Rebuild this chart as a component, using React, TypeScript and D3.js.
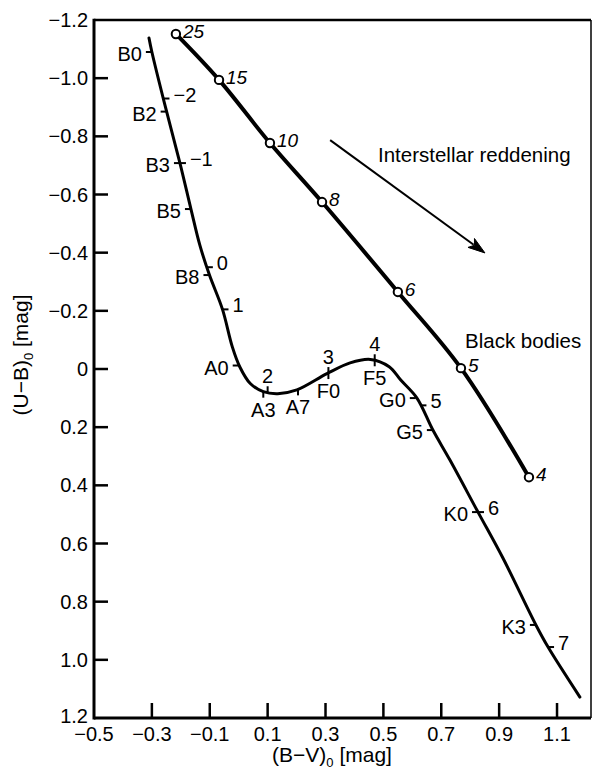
import React from 'react';
import * as d3 from 'd3';

// Main sequence (B-V, U-B)
const msBV = [-0.310, -0.300, -0.255, -0.203, -0.165, -0.134, -0.101, -0.056, -0.022, 0.004, 0.040, 0.085, 0.135, 0.201, 0.305, 0.385, 0.455, 0.520, 0.560, 0.616, 0.671, 0.730, 0.827, 0.913, 1.027, 1.069, 1.179];
const msUB = [-1.138, -1.090, -0.908, -0.708, -0.550, -0.425, -0.323, -0.205, -0.076, -0.007, 0.050, 0.078, 0.085, 0.072, 0.016, -0.021, -0.033, -0.008, 0.038, 0.100, 0.210, 0.313, 0.492, 0.650, 0.880, 0.956, 1.128];

// Black bodies (temperature in 1000 K)
const bbTemp = ['25', '15', '10', '8', '6', '5', '4'];
const bbBV = [-0.217, -0.068, 0.108, 0.288, 0.550, 0.768, 1.003];
const bbUB = [-1.152, -0.994, -0.777, -0.574, -0.265, -0.003, 0.372];

// Spectral type marks
const spLabels = ['B0', 'B2', 'B3', 'B5', 'B8', 'A0', 'A3', 'A7', 'F0', 'F5', 'G0', 'G5', 'K0', 'K3'];
const spBV = [-0.300, -0.249, -0.203, -0.165, -0.101, 0.000, 0.085, 0.205, 0.310, 0.470, 0.612, 0.671, 0.827, 1.027];
const spUB = [-1.090, -0.885, -0.708, -0.550, -0.323, -0.012, 0.078, 0.070, 0.014, -0.030, 0.100, 0.210, 0.492, 0.880];
const spSide = ['L', 'L', 'L', 'L', 'L', 'L', 'D', 'D', 'D', 'D', 'L', 'L', 'L', 'L'];

// Absolute magnitude marks
const mvLabels = ['\u22122', '\u22121', '0', '1', '2', '3', '4', '5', '6', '7'];
const mvBV = [-0.260, -0.203, -0.110, -0.056, 0.100, 0.310, 0.470, 0.628, 0.827, 1.069];
const mvUB = [-0.930, -0.708, -0.350, -0.205, 0.080, 0.014, -0.030, 0.125, 0.492, 0.956];
const mvSide = ['R', 'R', 'R', 'R', 'U', 'U', 'U', 'R', 'R', 'R'];

// Axes
const xTicks = [-0.5, -0.3, -0.1, 0.1, 0.3, 0.5, 0.7, 0.9, 1.1];
const xTickLabels = ['\u22120.5', '\u22120.3', '\u22120.1', '0.1', '0.3', '0.5', '0.7', '0.9', '1.1'];
const yTicks = [-1.2, -1.0, -0.8, -0.6, -0.4, -0.2, 0, 0.2, 0.4, 0.6, 0.8, 1.0, 1.2];
const yTickLabels = ['\u22121.2', '\u22121.0', '\u22120.8', '\u22120.6', '\u22120.4', '\u22120.2', '0', '0.2', '0.4', '0.6', '0.8', '1.0', '1.2'];

// Reddening vector
const reddenBV = [0.316, 0.851];
const reddenUB = [-0.787, -0.399];

const FONT = 'Liberation Sans, Arial, Helvetica, sans-serif';

export default function App() {
  const W = 593, H = 769;
  const left = 94, right = 591, top = 20, bottom = 718;
  const x = d3.scaleLinear().domain([-0.5, 1.2174]).range([left, right]);
  const y = d3.scaleLinear().domain([-1.2, 1.2]).range([top, bottom]);

  const ms = msBV.map((v, i) => [v, msUB[i]] as [number, number]);
  const bb = bbBV.map((v, i) => [v, bbUB[i]] as [number, number]);
  const line = d3.line<[number, number]>().x(d => x(d[0])).y(d => y(d[1])).curve(d3.curveCatmullRom.alpha(0.5));

  const marks = [
    ...spLabels.map((l, i) => ({ l, bv: spBV[i], ub: spUB[i], s: spSide[i] })),
    ...mvLabels.map((l, i) => ({ l, bv: mvBV[i], ub: mvUB[i], s: mvSide[i] })),
  ];

  const ax0 = x(reddenBV[0]), ay0 = y(reddenUB[0]);
  const ax1 = x(reddenBV[1]), ay1 = y(reddenUB[1]);
  const ang = Math.atan2(ay1 - ay0, ax1 - ax0);
  const headLen = 17, headW = 5.5;
  const ux = Math.cos(ang), uy = Math.sin(ang);
  const px = -uy, py = ux;
  const bx = ax1 - ux * headLen, by = ay1 - uy * headLen;
  const nx = ax1 - ux * (headLen - 4), ny = ay1 - uy * (headLen - 4);
  const head = `M${ax1},${ay1} L${bx + px * headW},${by + py * headW} L${nx},${ny} L${bx - px * headW},${by - py * headW} Z`;

  return (
    <svg width={W} height={H} style={{ position: 'absolute', left: 0, top: 0, background: '#fff' }} fontFamily={FONT}>
      <rect x={0} y={0} width={W} height={H} fill="#fff" />
      {/* frame */}
      <line x1={left} y1={top} x2={right} y2={top} stroke="#000" strokeWidth={2.5} />
      <line x1={right} y1={top} x2={right} y2={bottom} stroke="#000" strokeWidth={1.5} />
      <line x1={left} y1={top - 1.2} x2={left} y2={bottom + 1.5} stroke="#000" strokeWidth={3} />
      <line x1={left} y1={bottom} x2={right} y2={bottom} stroke="#000" strokeWidth={3} />

      {/* y ticks */}
      {yTicks.map((t, i) => (
        <g key={'y' + i}>
          {i > 0 && i < yTicks.length - 1 && (
            <line x1={left} x2={left + 14} y1={y(t)} y2={y(t)} stroke="#000" strokeWidth={2.5} />
          )}
          <text x={left - 6} y={y(t) + (i === yTicks.length - 1 ? 5 : 7)} textAnchor="end" fontSize={20}>{yTickLabels[i]}</text>
        </g>
      ))}
      {/* x ticks */}
      {xTicks.map((t, i) => (
        <g key={'x' + i}>
          {i > 0 && (
            <line x1={x(t)} x2={x(t)} y1={bottom} y2={bottom - 15} stroke="#000" strokeWidth={2.5} />
          )}
          <text x={x(t)} y={741} textAnchor="middle" fontSize={20}>{xTickLabels[i]}</text>
        </g>
      ))}

      {/* axis titles */}
      <text x={332} y={762} textAnchor="middle" fontSize={21}>
        (B{'\u2212'}V)<tspan fontSize={13} dy={5}>0</tspan><tspan dy={-5}> [mag]</tspan>
      </text>
      <text transform="translate(28,355) rotate(-90)" textAnchor="middle" fontSize={21}>
        (U{'\u2212'}B)<tspan fontSize={13} dy={5}>0</tspan><tspan dy={-5}> [mag]</tspan>
      </text>

      {/* main sequence */}
      <path d={line(ms) || ''} fill="none" stroke="#000" strokeWidth={3} strokeLinecap="round" />
      {marks.map((m, i) => {
        const mx = x(m.bv), my = y(m.ub);
        let tick, label;
        if (m.s === 'L') {
          tick = [mx - 6, my, mx, my];
          label = <text x={mx - 10} y={my + 9} textAnchor="end" fontSize={20}>{m.l}</text>;
        } else if (m.s === 'R') {
          tick = [mx, my, mx + 6, my];
          label = <text x={mx + 10} y={my + 3} textAnchor="start" fontSize={20}>{m.l}</text>;
        } else if (m.s === 'D') {
          tick = [mx, my, mx, my + 6];
          label = <text x={mx} y={my + 25} textAnchor="middle" fontSize={20}>{m.l}</text>;
        } else {
          tick = [mx, my - 6, mx, my];
          label = <text x={mx} y={my - 9} textAnchor="middle" fontSize={20}>{m.l}</text>;
        }
        return (
          <g key={'m' + i}>
            <line x1={tick[0]} y1={tick[1]} x2={tick[2]} y2={tick[3]} stroke="#000" strokeWidth={2} />
            {label}
          </g>
        );
      })}

      {/* black bodies */}
      <path d={line(bb) || ''} fill="none" stroke="#000" strokeWidth={4} />
      {bb.map((d, i) => (
        <g key={'b' + i}>
          <circle cx={x(d[0])} cy={y(d[1])} r={4.2} fill="#fff" stroke="#000" strokeWidth={2} />
          <text x={x(d[0]) + 7} y={y(d[1]) + 4} fontSize={19} fontStyle="italic">{bbTemp[i]}</text>
        </g>
      ))}
      <text x={465} y={348} fontSize={20.5}>Black bodies</text>

      {/* reddening arrow */}
      <line x1={ax0} y1={ay0} x2={bx + ux * 3} y2={by + uy * 3} stroke="#000" strokeWidth={2} />
      <path d={head} fill="#000" stroke="#000" strokeWidth={1} strokeLinejoin="round" />
      <text x={378} y={162} fontSize={20.5}>Interstellar reddening</text>
    </svg>
  );
}
